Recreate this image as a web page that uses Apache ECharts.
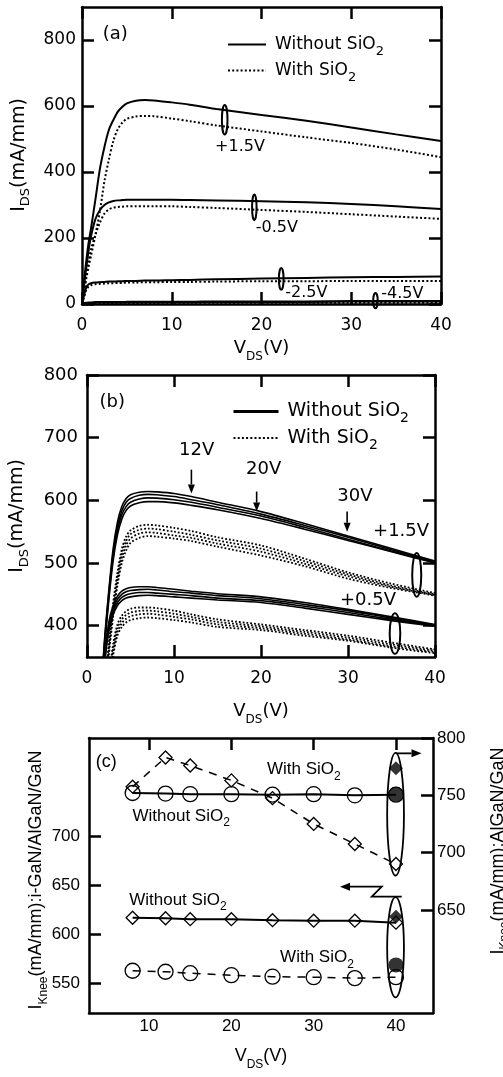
<!DOCTYPE html>
<html>
<head>
<meta charset="utf-8">
<script src="https://cdn.jsdelivr.net/npm/echarts@6/dist/echarts.min.js"></script>
<style>
  html, body { margin: 0; padding: 0; background: #fff; }
  #chart { width: 503px; height: 1077px; }
</style>
</head>
<body>
<div id="chart"></div>
<script>
// ---------- (a) output curves, VGS = +1.5 / -0.5 / -2.5 / -4.5 V ----------
const vdsA = [0, 0.25, 0.5, 0.75, 1, 1.5, 2, 2.5, 3, 3.5, 4, 4.5, 5, 6, 7, 8, 10, 12, 15, 20, 25, 30, 35, 40];
const aP15Bare  = [0, 75, 136, 188, 228, 318, 410, 476, 528, 558, 583, 598, 608, 616, 618, 617, 611, 604, 591, 573, 555, 535, 514, 494];
const aP15Oxide = [0, 40, 80, 115, 145, 210, 282, 372, 438, 495, 530, 550, 561, 568, 570, 569, 562, 554, 541, 523, 505, 488, 468, 445];
const aM05Bare  = [0, 60, 115, 165, 205, 258, 285, 300, 308, 312, 314, 315, 316, 316, 316, 316, 316, 315, 314, 311, 308, 303, 296, 288];
const aM05Oxide = [0, 45, 90, 130, 165, 210, 247, 274, 287, 292, 294, 295, 296, 296, 296, 296, 296, 294, 291, 285, 279, 272, 265, 258];
const aM25Bare  = [0, 28, 52, 60, 63, 65, 66, 67, 68, 68, 69, 69, 70, 70, 71, 71, 72, 73, 75, 77, 79, 81, 82, 83];
const aM25Oxide = [0, 22, 44, 53, 57, 60, 61, 62, 63, 63, 64, 64, 65, 65, 66, 66, 67, 67, 68, 69, 69, 70, 70, 70];
const aM45Bare  = [0, 2, 3, 4, 4, 5, 5, 5, 5, 5, 5, 5, 6, 6, 6, 6, 6, 6, 7, 7, 7, 8, 8, 8];
const aM45Oxide = [0, 1, 2, 2, 3, 3, 3, 3, 3, 3, 3, 3, 3, 3, 3, 3, 4, 4, 4, 4, 4, 4, 4, 4];

// ---------- (b) curves after 12 / 20 / 30 V stress, VGS = +1.5 / +0.5 V ----------
const vdsB = [1.5, 2, 2.5, 3, 3.5, 4, 4.5, 5, 6, 7, 8, 10, 12, 15, 20, 25, 30, 35, 40];
const bP15Bare1  = [270, 375, 455, 522, 565, 590, 603, 609, 613, 614, 613.5, 611, 606, 597, 582, 563, 543, 523, 503];
const bP15Bare2  = [265, 370, 450, 515, 558, 583, 597, 603, 608, 609.5, 609, 606, 601, 593, 578, 560, 541, 521, 502];
const bP15Bare3  = [260, 365, 445, 510, 552, 577, 590, 597, 602, 604, 603.5, 601, 597, 589, 575, 557, 538, 519, 501];
const bP15Bare4  = [255, 360, 440, 503, 545, 570, 584, 591, 596, 598, 598, 596, 592, 585, 571, 554, 536, 518, 500];
const bP15Oxide1 = [200, 290, 370, 435, 485, 522, 542, 552, 559, 561, 560, 556, 551, 541, 528, 507, 485, 467, 452];
const bP15Oxide2 = [195, 285, 364, 428, 478, 515, 535, 546, 553, 555, 554, 550, 545, 536, 523, 503, 482, 464, 450];
const bP15Oxide3 = [190, 280, 358, 421, 471, 508, 528, 539, 547, 549, 548, 544, 540, 531, 518, 499, 479, 462, 449];
const bP15Oxide4 = [185, 275, 352, 414, 464, 500, 520, 532, 540, 543, 542, 539, 535, 526, 512, 495, 475, 460, 448];
const bP05Bare1  = [250, 350, 405, 432, 447, 455, 459, 461, 462, 462, 461, 458, 455, 451, 446, 437, 426, 414, 402];
const bP05Bare2  = [245, 345, 400, 427, 442, 450, 454, 456, 457.5, 458, 457, 454, 452, 448, 443, 434, 424, 412, 401];
const bP05Bare3  = [240, 340, 395, 422, 437, 445, 449, 451, 453, 453, 452, 450, 448, 444, 440, 431, 421, 410, 400];
const bP05Bare4  = [235, 335, 390, 417, 432, 440, 444, 446, 448, 448.5, 448, 446, 444, 441, 437, 428, 418, 408, 399];
const bP05Oxide1 = [160, 245, 315, 370, 402, 416, 423, 427, 429, 429, 428, 424, 418, 410, 402, 393, 384, 373, 362];
const bP05Oxide2 = [155, 240, 309, 364, 396, 410, 417, 421, 423.5, 424, 423, 419, 414, 406, 399, 390, 381, 370, 360];
const bP05Oxide3 = [150, 235, 303, 358, 390, 404, 411, 415, 418, 419, 418, 414, 410, 402, 396, 387, 378, 367, 358];
const bP05Oxide4 = [145, 230, 297, 352, 384, 398, 405, 409, 412, 413, 412, 409, 405, 398, 393, 384, 376, 365, 356];

// ---------- (c) knee current vs. stress VDS ----------
const vdsC = [8, 12, 15, 20, 25, 30, 35, 40];
const kneeBareAlGaN  = [752, 751.5, 751, 751, 750.5, 751, 750, 750.5];   // right axis
const kneeOxideAlGaN = [757.5, 783, 776, 763, 747.5, 725, 707.5, 690];  // right axis
const kneeBareIGaN   = [617, 616.5, 615.5, 615.5, 614.5, 614, 614, 612]; // left axis
const kneeOxideIGaN  = [563, 562, 560.5, 558.5, 557, 556.5, 555.5, 556.5]; // left axis
const solidPointX = [40];
const solidAlGaNDiamond = [773.5];
const solidAlGaNCircle  = [751];
const solidIGaNDiamond  = [618];
const solidIGaNCircle   = [569];

// tick values
const xTicksAB = [0, 10, 20, 30, 40];
const yTicksA  = [0, 200, 400, 600, 800];
const yTicksB  = [400, 500, 600, 700, 800];
const xTicksC  = [10, 20, 30, 40];
const yTicksCLeft  = [550, 600, 650, 700];
const yTicksCRight = [650, 700, 750, 800];

// annotations: [x, yLow, yHigh, half-width in x units]
const ringsA = [[15.9, 514, 603, 0.31], [19.2, 254, 332, 0.25], [22.2, 43, 109, 0.26], [32.7, -13, 33, 0.25]];
const ringsB = [[37.9, 446, 516, 0.52], [35.4, 355, 420, 0.61]];
const ringsCRight = [[39.95, 680, 787, 1.02]];
const ringsCLeft  = [[39.95, 536, 638, 1.02]];
const arrowsB = [[[12, 649], [12, 611]], [[19.5, 614], [19.5, 582]], [[29.9, 582], [29.9, 550]]];
const arrowsCRight = [[[40, 786.6], [43.1, 786.6]]];
const arrowsCLeft  = [[[40.7, 638.4], [37.06, 638.4], [38.27, 648.6], [33.2, 648.6]]];
// [text, x, y, font size]
const labelsA = [['(a)', 3.7, 816, 18], ['+1.5V', 17.6, 476, 16], ['-0.5V', 21.7, 230, 16], ['-2.5V', 25.0, 35, 16], ['-4.5V', 35.7, 30, 16]];
const labelsB = [['(b)', 2.9, 756, 18], ['12V', 12.6, 680, 18], ['20V', 20.3, 649, 18], ['30V', 30.8, 607, 18],
                 ['+1.5V', 36.1, 550, 18], ['+0.5V', 32.3, 440, 18]];
const labelsC = [['(c)', 4.8, 776, 18], ['With SiO{s|2}', 28.8, 768, 17], ['Without SiO{s|2}', 13.9, 720.6, 17],
                 ['Without SiO{s|2}', 13.5, 635, 17], ['With SiO{s|2}', 30.4, 576.5, 17]];

const FONT_AB = '"DejaVu Sans", sans-serif';
const FONT_C = '"Liberation Sans", Arial, sans-serif';
const INK = '#000';

const zip = (xs, ys) => xs.map((x, i) => [x, ys[i]]);
const sub = (size, drop, family) => ({ fontSize: size, fontFamily: family, color: INK, padding: [drop * 2, 0, 0, 0] });

function frameAxis(o) {
  const ax = {
    type: 'value', gridIndex: o.grid, min: o.min, max: o.max, position: o.position,
    axisLine: { show: true, onZero: false, lineStyle: { color: INK, width: 2.5 } },
    axisTick: { show: !!o.ticks, inside: true, length: 12, lineStyle: { color: INK, width: 2.5 }, customValues: o.ticks },
    axisLabel: o.labels ? { show: true, customValues: o.labels, margin: o.margin, color: INK,
                            fontSize: o.fontSize, fontFamily: o.family } : { show: false },
    splitLine: { show: false }
  };
  if (o.name) {
    ax.name = o.name;
    ax.nameLocation = 'middle';
    ax.nameGap = o.nameGap;
    ax.nameMoveOverlap = false;
    ax.nameTextStyle = { color: INK, fontSize: o.nameSize, fontFamily: o.family,
                         rich: { s: sub(o.subSize, o.drop, o.family) } };
  }
  return ax;
}

// vertical axis titles, centred on the given point and reading upwards
function sideTitle(text, x, y, size, subSize, drop, family) {
  return { type: 'text', x, y, rotation: Math.PI / 2, silent: true,
           style: { text, fill: INK, align: 'center', verticalAlign: 'middle', font: size + 'px ' + family,
                    rich: { s: sub(subSize, drop, family) } } };
}

function curve(name, xs, ys, xi, yi, dotted, width) {
  return {
    type: 'line', name, xAxisIndex: xi, yAxisIndex: yi, data: zip(xs, ys),
    symbol: 'none', showSymbol: false, smooth: 0.3, silent: true, clip: true,
    itemStyle: { color: INK },
    lineStyle: { color: INK, width, type: dotted ? [width, width * 1.1] : 'solid' }
  };
}

function ringSeries(rings, xi, yi, lw) {
  return {
    type: 'custom', xAxisIndex: xi, yAxisIndex: yi, silent: true, z: 8,
    data: rings,
    renderItem: (params, api) => {
      const top = api.coord([api.value(0), api.value(2)]);
      const bot = api.coord([api.value(0), api.value(1)]);
      const rx = api.size([api.value(3), 0])[0];
      return { type: 'ellipse',
               shape: { cx: top[0], cy: (top[1] + bot[1]) / 2, rx, ry: (bot[1] - top[1]) / 2 },
               style: { fill: 'none', stroke: INK, lineWidth: lw } };
    }
  };
}

function arrowSeries(paths, xi, yi, lw, headLen, headHalf) {
  return {
    type: 'custom', xAxisIndex: xi, yAxisIndex: yi, silent: true, z: 8,
    data: paths.map(p => p[0]),
    renderItem: (params, api) => {
      const pts = paths[params.dataIndex].map(q => api.coord(q));
      const a = pts[pts.length - 2], b = pts[pts.length - 1];
      const ang = Math.atan2(b[1] - a[1], b[0] - a[0]);
      const c = Math.cos(ang), s = Math.sin(ang);
      const base = [b[0] - headLen * c, b[1] - headLen * s];
      const shaft = pts.slice(0, -1).concat([base]);
      const head = [b, [base[0] + headHalf * s, base[1] - headHalf * c], [base[0] - headHalf * s, base[1] + headHalf * c]];
      return { type: 'group', children: [
        { type: 'polyline', shape: { points: shaft }, style: { stroke: INK, lineWidth: lw, fill: 'none' } },
        { type: 'polygon', shape: { points: head }, style: { fill: INK } }
      ] };
    }
  };
}

function labelSeries(items, xi, yi, family, subSize, drop) {
  return {
    type: 'custom', xAxisIndex: xi, yAxisIndex: yi, silent: true, z: 9,
    data: items.map(t => [t[1], t[2]]),
    renderItem: (params, api) => {
      const item = items[params.dataIndex];
      const p = api.coord([api.value(0), api.value(1)]);
      return { type: 'text', x: p[0], y: p[1],
               style: { text: item[0], fill: INK, align: 'center', verticalAlign: 'middle',
                        font: item[3] + 'px ' + family, rich: { s: sub(subSize, drop, family) } } };
    }
  };
}

function markers(name, xs, ys, xi, yi, symbol, size, dashed) {
  return {
    type: 'line', name, xAxisIndex: xi, yAxisIndex: yi, data: zip(xs, ys), silent: true,
    symbol, symbolSize: size, showSymbol: true,
    itemStyle: { color: 'rgba(0,0,0,0)', borderColor: INK, borderWidth: 1.3 },
    lineStyle: { color: INK, width: dashed ? 1.5 : 2, type: dashed ? [8, 7] : 'solid' }
  };
}

function dots(xs, ys, xi, yi, symbol, size) {
  return { type: 'scatter', xAxisIndex: xi, yAxisIndex: yi, data: zip(xs, ys), silent: true, z: 4,
           symbol, symbolSize: size, itemStyle: { color: INK } };
}

const legendText = (size, subSize, drop, family) => ({
  color: INK, fontSize: size, fontFamily: family,
  rich: { s: sub(subSize, drop, family), g: { width: 4, fontSize: size, fontFamily: family } }
});

const chart = echarts.init(document.getElementById('chart'), null, { renderer: 'canvas' });
chart.setOption({
  animation: false,
  backgroundColor: '#fff',
  grid: [
    { left: 82, top: 7, width: 359, height: 297 },
    { left: 87, top: 375, width: 348, height: 282 },
    { left: 89, top: 738, width: 344, height: 275 }
  ],
  legend: [
    { left: 222, top: 31, orient: 'vertical', itemWidth: 38, itemHeight: 10, itemGap: 4, selectedMode: false,
      itemStyle: { opacity: 0 },
      data: ['Without SiO2', 'With SiO2'], formatter: n => '{g| }' + n.replace('SiO2', 'SiO{s|2}'),
      textStyle: legendText(17, 13, 7, FONT_AB) },
    { left: 227, top: 397, orient: 'vertical', itemWidth: 45, itemHeight: 10, itemGap: 3, selectedMode: false,
      itemStyle: { opacity: 0 },
      data: [{ name: 'Without SiO2', lineStyle: { width: 3 } }, 'With SiO2'],
      formatter: n => '{g| }' + n.replace('SiO2', 'SiO{s|2}'),
      textStyle: legendText(19, 14, 7, FONT_AB) }
  ],
  graphic: [
    sideTitle('I{s|DS}(mA/mm)', 19, 155, 19, 13, 7, FONT_AB),
    sideTitle('I{s|DS}(mA/mm)', 17.5, 516, 19, 13, 7, FONT_AB),
    sideTitle('I{s|Knee}(mA/mm):i-GaN/AlGaN/GaN', 36.5, 880, 18, 12, 7, FONT_C),
    sideTitle('I{s|Knee}(mA/mm):AlGaN/GaN', 498, 851, 18, 12, 7, FONT_C)
  ],
  xAxis: [
    frameAxis({ grid: 0, min: 0, max: 40, position: 'bottom', ticks: xTicksAB, labels: xTicksAB, margin: 13,
                fontSize: 17, family: FONT_AB, name: 'V{s|DS}(V)', nameGap: 29, nameSize: 18, subSize: 12, drop: 9 }),
    frameAxis({ grid: 0, min: 0, max: 40, position: 'top', ticks: xTicksAB }),
    frameAxis({ grid: 1, min: 0, max: 40, position: 'bottom', ticks: xTicksAB, labels: xTicksAB, margin: 13,
                fontSize: 17, family: FONT_AB, name: 'V{s|DS}(V)', nameGap: 39, nameSize: 18, subSize: 12, drop: 9 }),
    frameAxis({ grid: 1, min: 0, max: 40, position: 'top', ticks: xTicksAB }),
    frameAxis({ grid: 2, min: 2.7, max: 44.5, position: 'bottom', labels: xTicksC, margin: 5,
                fontSize: 17, family: FONT_C, name: 'V{s|DS}(V)', nameGap: 28, nameSize: 18, subSize: 12, drop: 9 }),
    frameAxis({ grid: 2, min: 2.7, max: 44.5, position: 'top', ticks: xTicksC })
  ],
  yAxis: [
    frameAxis({ grid: 0, min: 0, max: 900, position: 'left', ticks: yTicksA, labels: yTicksA, margin: 6,
                fontSize: 17, family: FONT_AB }),
    frameAxis({ grid: 0, min: 0, max: 900, position: 'right', ticks: yTicksA }),
    frameAxis({ grid: 1, min: 350, max: 800, position: 'left', ticks: yTicksB, labels: yTicksB, margin: 9,
                fontSize: 18, family: FONT_AB }),
    frameAxis({ grid: 1, min: 350, max: 800, position: 'right', ticks: yTicksB }),
    frameAxis({ grid: 2, min: 520, max: 800, position: 'left', ticks: yTicksCLeft, labels: yTicksCLeft, margin: 9,
                fontSize: 17, family: FONT_C }),
    frameAxis({ grid: 2, min: 560, max: 800, position: 'right', ticks: yTicksCRight, labels: yTicksCRight, margin: 4,
                fontSize: 17, family: FONT_C })
  ],
  series: [
    // (a)
    curve('Without SiO2', vdsA, aP15Bare, 0, 0, false, 2),
    curve('With SiO2', vdsA, aP15Oxide, 0, 0, true, 2),
    curve('Without SiO2', vdsA, aM05Bare, 0, 0, false, 2),
    curve('With SiO2', vdsA, aM05Oxide, 0, 0, true, 2),
    curve('Without SiO2', vdsA, aM25Bare, 0, 0, false, 2),
    curve('With SiO2', vdsA, aM25Oxide, 0, 0, true, 2),
    curve('Without SiO2', vdsA, aM45Bare, 0, 0, false, 2.5),
    curve('With SiO2', vdsA, aM45Oxide, 0, 0, true, 2),
    ringSeries(ringsA, 0, 0, 2),
    labelSeries(labelsA, 0, 0, FONT_AB, 11, 6),
    // (b)
    curve('Without SiO2', vdsB, bP15Bare1, 2, 2, false, 1.6),
    curve('Without SiO2', vdsB, bP15Bare2, 2, 2, false, 1.6),
    curve('Without SiO2', vdsB, bP15Bare3, 2, 2, false, 1.6),
    curve('Without SiO2', vdsB, bP15Bare4, 2, 2, false, 1.6),
    curve('With SiO2', vdsB, bP15Oxide1, 2, 2, true, 1.8),
    curve('With SiO2', vdsB, bP15Oxide2, 2, 2, true, 1.8),
    curve('With SiO2', vdsB, bP15Oxide3, 2, 2, true, 1.8),
    curve('With SiO2', vdsB, bP15Oxide4, 2, 2, true, 1.8),
    curve('Without SiO2', vdsB, bP05Bare1, 2, 2, false, 1.6),
    curve('Without SiO2', vdsB, bP05Bare2, 2, 2, false, 1.6),
    curve('Without SiO2', vdsB, bP05Bare3, 2, 2, false, 1.6),
    curve('Without SiO2', vdsB, bP05Bare4, 2, 2, false, 1.6),
    curve('With SiO2', vdsB, bP05Oxide1, 2, 2, true, 1.8),
    curve('With SiO2', vdsB, bP05Oxide2, 2, 2, true, 1.8),
    curve('With SiO2', vdsB, bP05Oxide3, 2, 2, true, 1.8),
    curve('With SiO2', vdsB, bP05Oxide4, 2, 2, true, 1.8),
    ringSeries(ringsB, 2, 2, 2),
    arrowSeries(arrowsB, 2, 2, 1.6, 9, 3.5),
    labelSeries(labelsB, 2, 2, FONT_AB, 12, 6),
    // (c)
    markers('AlGaN/GaN, without SiO2', vdsC, kneeBareAlGaN, 4, 5, 'circle', 15, false),
    markers('AlGaN/GaN, with SiO2', vdsC, kneeOxideAlGaN, 4, 5, 'diamond', 13, true),
    markers('i-GaN/AlGaN/GaN, without SiO2', vdsC, kneeBareIGaN, 4, 4, 'diamond', 13, false),
    markers('i-GaN/AlGaN/GaN, with SiO2', vdsC, kneeOxideIGaN, 4, 4, 'circle', 15, true),
    dots(solidPointX, solidAlGaNDiamond, 4, 5, 'diamond', 14),
    dots(solidPointX, solidAlGaNCircle, 4, 5, 'circle', 15),
    dots(solidPointX, solidIGaNDiamond, 4, 4, 'diamond', 14),
    dots(solidPointX, solidIGaNCircle, 4, 4, 'circle', 15),
    ringSeries(ringsCRight, 4, 5, 1.8),
    ringSeries(ringsCLeft, 4, 4, 1.8),
    arrowSeries(arrowsCRight, 4, 5, 1.8, 10, 4),
    arrowSeries(arrowsCLeft, 4, 4, 1.8, 10, 4),
    labelSeries(labelsC, 4, 4, FONT_C, 12, 7)
  ]
});
</script>
</body>
</html>
